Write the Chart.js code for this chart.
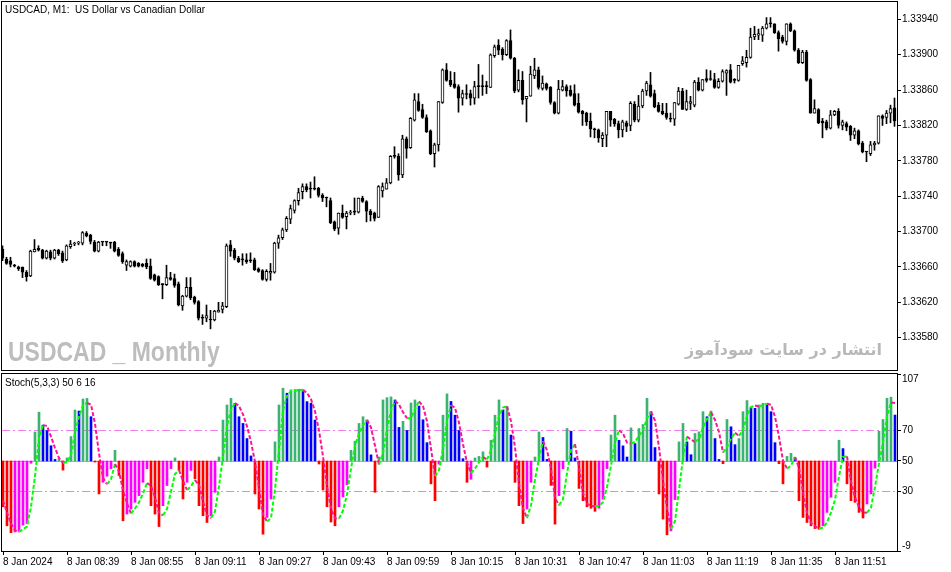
<!DOCTYPE html>
<html>
<head>
<meta charset="utf-8">
<script src="https://cdn.jsdelivr.net/npm/chart.js@4.4.1/dist/chart.umd.min.js"></script>
<style>
  html, body { margin: 0; padding: 0; background: #fff; }
  #wrap { position: relative; width: 951px; height: 572px; overflow: hidden; font-family: "Liberation Sans", Arial, sans-serif; }
  canvas { position: absolute; left: 0; }
  #main { top: 0; }
  #sub { top: 362px; }
  .txt { position: absolute; white-space: pre; }
  #title { left: 5px; top: 4px; font-size: 10px; color: #000; }
  #stochLabel { left: 5px; top: 377px; font-size: 10px; color: #000; }
  #wmEn { left: 8px; top: 338px; font-size: 28px; line-height: 28px; font-weight: bold; color: #bdbdbd; transform: scaleX(0.82); transform-origin: left top; }
  #wmFa { right: 69px; top: 342px; font-family: "DejaVu Sans", sans-serif; font-size: 16px; line-height: 16px; font-weight: bold; color: #b8b8b8; direction: rtl; }
</style>
</head>
<body>
<div id="wrap">
  <canvas id="main" width="951" height="372"></canvas>
  <canvas id="sub" width="951" height="210"></canvas>
  <div class="txt" id="title">USDCAD, M1:  US Dollar vs Canadian Dollar</div>
  <div class="txt" id="stochLabel">Stoch(5,3,3) 50 6 16</div>
  <div class="txt" id="wmEn">USDCAD _ Monthly</div>
  <div class="txt" id="wmFa">انتشار در سایت سودآموز</div>
</div>
<script>
// USDCAD M1, 8 Jan 2024 08:23 - 12:06, one bar per minute
const open = [1.33680,1.33669,1.33667,1.33661,1.33660,1.33660,1.33654,1.33650,1.33677,1.33681,
  1.33679,1.33670,1.33677,1.33670,1.33679,1.33676,1.33668,1.33683,1.33686,1.33687,
  1.33687,1.33698,1.33696,1.33688,1.33678,1.33688,1.33688,1.33688,1.33688,1.33680,
  1.33675,1.33662,1.33661,1.33666,1.33664,1.33663,1.33664,1.33661,1.33651,1.33649,
  1.33640,1.33640,1.33648,1.33647,1.33641,1.33616,1.33627,1.33637,1.33626,1.33621,
  1.33603,1.33602,1.33601,1.33600,1.33609,1.33612,1.33615,1.33685,1.33679,1.33670,
  1.33668,1.33668,1.33668,1.33668,1.33658,1.33656,1.33646,1.33653,1.33654,1.33687,
  1.33693,1.33702,1.33714,1.33724,1.33735,1.33745,1.33751,1.33748,1.33749,1.33749,
  1.33741,1.33738,1.33735,1.33711,1.33704,1.33721,1.33717,1.33721,1.33722,1.33722,
  1.33738,1.33734,1.33723,1.33721,1.33716,1.33746,1.33748,1.33755,1.33785,1.33785,
  1.33764,1.33805,1.33795,1.33826,1.33847,1.33838,1.33829,1.33814,1.33788,1.33798,
  1.33846,1.33883,1.33871,1.33867,1.33864,1.33851,1.33855,1.33856,1.33851,1.33864,
  1.33864,1.33864,1.33863,1.33899,1.33911,1.33906,1.33900,1.33916,1.33896,1.33860,
  1.33871,1.33850,1.33853,1.33876,1.33883,1.33862,1.33867,1.33863,1.33846,1.33834,
  1.33860,1.33864,1.33860,1.33856,1.33845,1.33836,1.33834,1.33825,1.33815,1.33815,
  1.33805,1.33809,1.33836,1.33827,1.33822,1.33815,1.33823,1.33820,1.33844,1.33826,
  1.33842,1.33859,1.33866,1.33856,1.33843,1.33836,1.33834,1.33827,1.33827,1.33844,
  1.33859,1.33838,1.33845,1.33843,1.33869,1.33860,1.33873,1.33872,1.33872,1.33863,
  1.33870,1.33879,1.33883,1.33871,1.33871,1.33890,1.33891,1.33897,1.33920,1.33922,
  1.33922,1.33930,1.33935,1.33935,1.33925,1.33920,1.33915,1.33935,1.33927,1.33905,
  1.33891,1.33903,1.33872,1.33834,1.33838,1.33825,1.33824,1.33817,1.33832,1.33836,
  1.33820,1.33822,1.33819,1.33809,1.33814,1.33800,1.33790,1.33788,1.33798,1.33800,
  1.33831,1.33829,1.33834,1.33840];
const high = [1.33684,1.33671,1.33671,1.33663,1.33661,1.33660,1.33656,1.33679,1.33691,1.33684,
  1.33680,1.33679,1.33679,1.33680,1.33680,1.33678,1.33685,1.33690,1.33688,1.33689,
  1.33700,1.33700,1.33697,1.33690,1.33689,1.33688,1.33688,1.33688,1.33689,1.33682,
  1.33677,1.33668,1.33667,1.33667,1.33665,1.33664,1.33669,1.33669,1.33652,1.33650,
  1.33641,1.33662,1.33654,1.33652,1.33643,1.33628,1.33648,1.33648,1.33627,1.33622,
  1.33606,1.33617,1.33611,1.33611,1.33620,1.33620,1.33686,1.33690,1.33681,1.33672,
  1.33675,1.33675,1.33676,1.33670,1.33659,1.33657,1.33657,1.33664,1.33688,1.33696,
  1.33704,1.33717,1.33730,1.33736,1.33749,1.33754,1.33754,1.33756,1.33762,1.33750,
  1.33743,1.33739,1.33738,1.33712,1.33721,1.33730,1.33723,1.33724,1.33738,1.33738,
  1.33740,1.33735,1.33725,1.33722,1.33752,1.33755,1.33760,1.33786,1.33796,1.33788,
  1.33809,1.33807,1.33829,1.33856,1.33856,1.33844,1.33832,1.33815,1.33800,1.33847,
  1.33884,1.33890,1.33881,1.33880,1.33866,1.33860,1.33866,1.33860,1.33870,1.33889,
  1.33877,1.33870,1.33901,1.33911,1.33917,1.33908,1.33917,1.33928,1.33897,1.33883,
  1.33881,1.33853,1.33887,1.33896,1.33886,1.33876,1.33868,1.33864,1.33847,1.33871,
  1.33871,1.33866,1.33865,1.33866,1.33856,1.33837,1.33835,1.33834,1.33817,1.33816,
  1.33812,1.33836,1.33836,1.33828,1.33825,1.33826,1.33825,1.33847,1.33847,1.33854,
  1.33861,1.33870,1.33880,1.33860,1.33846,1.33845,1.33845,1.33834,1.33846,1.33863,
  1.33862,1.33860,1.33853,1.33871,1.33874,1.33872,1.33883,1.33882,1.33879,1.33873,
  1.33883,1.33883,1.33889,1.33873,1.33888,1.33898,1.33905,1.33930,1.33932,1.33929,
  1.33932,1.33942,1.33942,1.33935,1.33927,1.33922,1.33935,1.33936,1.33928,1.33907,
  1.33905,1.33905,1.33873,1.33849,1.33839,1.33828,1.33826,1.33837,1.33837,1.33839,
  1.33826,1.33824,1.33820,1.33817,1.33815,1.33802,1.33790,1.33802,1.33802,1.33831,
  1.33832,1.33837,1.33843,1.33851];
const low = [1.33667,1.33663,1.33660,1.33660,1.33656,1.33648,1.33644,1.33649,1.33677,1.33678,
  1.33669,1.33669,1.33668,1.33669,1.33673,1.33665,1.33667,1.33681,1.33684,1.33685,
  1.33685,1.33694,1.33686,1.33677,1.33677,1.33684,1.33684,1.33681,1.33677,1.33672,
  1.33664,1.33656,1.33660,1.33660,1.33660,1.33660,1.33658,1.33646,1.33644,1.33639,
  1.33624,1.33639,1.33645,1.33637,1.33616,1.33611,1.33626,1.33623,1.33618,1.33600,
  1.33595,1.33598,1.33590,1.33599,1.33609,1.33608,1.33614,1.33672,1.33668,1.33665,
  1.33662,1.33664,1.33665,1.33656,1.33654,1.33645,1.33644,1.33645,1.33653,1.33681,
  1.33691,1.33700,1.33709,1.33721,1.33730,1.33737,1.33745,1.33738,1.33747,1.33739,
  1.33734,1.33728,1.33709,1.33701,1.33697,1.33715,1.33703,1.33719,1.33719,1.33721,
  1.33733,1.33711,1.33712,1.33712,1.33716,1.33739,1.33748,1.33754,1.33783,1.33758,
  1.33761,1.33783,1.33794,1.33825,1.33836,1.33828,1.33812,1.33787,1.33773,1.33791,
  1.33845,1.33870,1.33864,1.33862,1.33835,1.33843,1.33850,1.33843,1.33844,1.33851,
  1.33854,1.33856,1.33863,1.33897,1.33900,1.33894,1.33899,1.33895,1.33857,1.33858,
  1.33844,1.33824,1.33853,1.33873,1.33861,1.33860,1.33860,1.33844,1.33833,1.33833,
  1.33859,1.33853,1.33853,1.33842,1.33834,1.33820,1.33820,1.33807,1.33806,1.33801,
  1.33796,1.33796,1.33819,1.33819,1.33806,1.33807,1.33813,1.33814,1.33824,1.33824,
  1.33840,1.33854,1.33852,1.33840,1.33835,1.33832,1.33827,1.33824,1.33820,1.33843,
  1.33838,1.33837,1.33838,1.33841,1.33859,1.33859,1.33869,1.33871,1.33862,1.33862,
  1.33869,1.33854,1.33868,1.33868,1.33870,1.33888,1.33886,1.33896,1.33917,1.33917,
  1.33915,1.33929,1.33931,1.33924,1.33904,1.33913,1.33911,1.33926,1.33904,1.33890,
  1.33890,1.33870,1.33834,1.33834,1.33822,1.33806,1.33815,1.33816,1.33831,1.33817,
  1.33815,1.33814,1.33803,1.33805,1.33798,1.33789,1.33779,1.33786,1.33792,1.33799,
  1.33820,1.33822,1.33823,1.33819];
const close = [1.33670,1.33664,1.33663,1.33661,1.33658,1.33654,1.33649,1.33678,1.33680,1.33679,
  1.33670,1.33678,1.33670,1.33679,1.33675,1.33667,1.33684,1.33686,1.33687,1.33688,
  1.33699,1.33695,1.33689,1.33678,1.33688,1.33688,1.33688,1.33687,1.33678,1.33673,
  1.33666,1.33666,1.33666,1.33661,1.33661,1.33661,1.33660,1.33647,1.33645,1.33640,
  1.33640,1.33648,1.33646,1.33639,1.33617,1.33627,1.33637,1.33625,1.33620,1.33602,
  1.33602,1.33605,1.33600,1.33610,1.33611,1.33616,1.33684,1.33678,1.33670,1.33666,
  1.33668,1.33666,1.33667,1.33657,1.33655,1.33646,1.33655,1.33655,1.33687,1.33693,
  1.33702,1.33715,1.33726,1.33735,1.33744,1.33751,1.33747,1.33748,1.33748,1.33741,
  1.33738,1.33738,1.33710,1.33703,1.33721,1.33716,1.33721,1.33722,1.33722,1.33738,
  1.33734,1.33723,1.33719,1.33715,1.33751,1.33751,1.33755,1.33785,1.33785,1.33764,
  1.33805,1.33794,1.33828,1.33849,1.33837,1.33829,1.33813,1.33788,1.33798,1.33847,
  1.33883,1.33871,1.33866,1.33863,1.33851,1.33856,1.33855,1.33851,1.33864,1.33864,
  1.33864,1.33864,1.33900,1.33909,1.33905,1.33900,1.33916,1.33896,1.33859,1.33871,
  1.33849,1.33853,1.33878,1.33883,1.33863,1.33868,1.33862,1.33846,1.33834,1.33861,
  1.33864,1.33859,1.33854,1.33843,1.33835,1.33833,1.33824,1.33816,1.33815,1.33806,
  1.33809,1.33836,1.33826,1.33822,1.33815,1.33824,1.33819,1.33845,1.33826,1.33842,
  1.33859,1.33868,1.33853,1.33841,1.33836,1.33833,1.33829,1.33827,1.33846,1.33859,
  1.33838,1.33847,1.33847,1.33869,1.33860,1.33872,1.33871,1.33872,1.33863,1.33870,
  1.33881,1.33882,1.33869,1.33871,1.33888,1.33893,1.33897,1.33920,1.33923,1.33924,
  1.33930,1.33935,1.33935,1.33925,1.33918,1.33915,1.33935,1.33927,1.33905,1.33891,
  1.33903,1.33871,1.33834,1.33839,1.33823,1.33823,1.33817,1.33832,1.33836,1.33820,
  1.33824,1.33818,1.33809,1.33814,1.33799,1.33790,1.33790,1.33798,1.33800,1.33831,
  1.33828,1.33834,1.33839,1.33825];

// Stoch(5,3,3): main line (histogram around 50) and signal line
const stochK = [20,7.5,3,3.5,4,8,9,48.5,69,82,
  73.5,70,60,51,51.5,44,52,66,83.4,82.7,
  90.6,91,79,49.3,28.4,36,40,45,57,40.5,
  10.8,15.2,18.5,22.9,27.3,36,44.9,20.7,15.2,7,
  20.7,33.9,45,52,43.8,25.1,36,43.8,38.3,20.7,
  14.1,9.7,14.1,29.5,52.6,76.8,86.7,91.1,87.8,79,
  74.6,64.7,53.3,28.4,18.5,2,13,25.1,62.5,86.7,
  97.7,94.4,96.6,96.8,97,95.5,88.9,87.8,76.8,48,
  31,20,10,7.5,20,26.5,34.5,57,63,74.6,
  79,76.8,54,29.5,52.6,90,91.5,92,90,72,
  76,70,88,90,86,77,62,35,24,48,
  80,94,89,80,70,51.5,36,38,52,53,
  56,46,63.6,80,90,83.4,85.6,67,36,20.7,
  9,18.5,36,52.6,69,65.4,51,34,8.6,27.3,
  44.9,71.3,69.5,52,32,24,20,19,17,19,
  25,45,67,80,63.6,59.9,52.6,71.7,61.4,71.3,
  73.9,91.1,82.3,58.8,28.4,11.9,1.6,4.2,24.7,62.5,
  74.6,62.5,54.1,68,69.1,82.3,79,82.7,64.7,51,
  48.2,77.2,72.4,60.7,64.7,82.3,89.6,85,84.5,86.7,
  87.8,86.7,82.3,62,48.2,35,53,55,52,24,
  13,9.7,7.5,5.7,5.3,7.5,16.3,26.2,36,63.6,
  58.1,35,24,22.9,16.3,12.6,21.8,28.4,45.3,69.5,
  77.2,91.1,91.8,80.1];
const stochD = [24,16.3,9,4.5,3.5,5.2,7,20,40,65,
  73.5,73,66,58.5,52,48.8,49.2,54,68.5,79,
  86.5,88.1,86.9,74.5,55,39,34.8,38,48,43,
  31,22.2,15.5,18.9,22.9,28.7,35.5,33.9,26,16,
  14.4,18.5,30,41.5,44,37,31,33.5,37.5,34.3,
  23.5,14.3,12.6,17,33.5,53,73,83.5,88,86,
  80.5,72.8,62.5,49.5,32.5,15,10.3,12.5,31.5,57,
  83,92.5,95.8,96.1,96.4,96.6,94.5,90.5,82.5,70,
  53,33.5,19,12.5,12.2,17.5,28,45,60,68,
  73.5,76.8,72,60,47.5,55,71,83,89.5,87,
  82,78,78,84,89,86,76,58,40,44,
  58,76,86.5,85,75,61,49,42,45,49,
  52.5,51,57,68,79.5,85,85.8,76,59,35,
  19,12.5,21,38,51.5,63,57,45,26,21,
  25,42,57,61,46,29,22,20.5,20.3,20.5,
  23,33,47,62,70.2,68,62,61.4,62.5,66.5,
  70,78,82.3,76.5,59,37,19,5.5,10.5,31,
  52,66,64,62.5,64.5,72,77.5,82,77,69,
  55.5,59,64.5,68.5,66.5,70.2,79.5,85.3,86.3,85.7,
  86.7,87.6,86.8,79,66,50,45,47,52.6,45.5,
  29.6,16,9.5,7.2,5.8,6.3,9.7,16.3,24.5,40,
  52.6,53,36.5,26.2,19.7,16.2,16,19.5,33,48.5,
  62,79.3,88.3,88];

const priceTicks = [1.33580, 1.33620, 1.33660, 1.33700, 1.33740, 1.33780, 1.33820, 1.33860, 1.33900, 1.33940];
const stochTicks = [-9, 30, 50, 70, 107];
const levels = [30, 50, 70];
const timeTickIdx = [0, 16, 32, 48, 64, 80, 96, 112, 128, 144, 160, 176, 192, 208];
const timeTicks = ['8 Jan 2024', '8 Jan 08:39', '8 Jan 08:55', '8 Jan 09:11', '8 Jan 09:27', '8 Jan 09:43',
  '8 Jan 09:59', '8 Jan 10:15', '8 Jan 10:31', '8 Jan 10:47', '8 Jan 11:03', '8 Jan 11:19', '8 Jan 11:35', '8 Jan 11:51'];

const idx = close.map((_, i) => i);
const axisFont = { family: 'Liberation Sans', size: 10 };

// black frame around the plot area, like the terminal window
const frame = {
  id: 'frame',
  afterDraw(chart) {
    const { ctx, chartArea: a } = chart;
    ctx.save();
    ctx.strokeStyle = '#000';
    ctx.lineWidth = 1;
    ctx.strokeRect(a.left - 0.5, a.top - 0.5, a.right - a.left + 1, a.bottom - a.top + 1);
    ctx.restore();
  }
};

// level lines of the oscillator
const levelLines = {
  id: 'levelLines',
  beforeDatasetsDraw(chart) {
    const { ctx, chartArea: a, scales: { y } } = chart;
    ctx.save();
    ctx.strokeStyle = '#ee82ee';
    ctx.lineWidth = 1;
    levels.forEach(v => {
      const py = Math.round(y.getPixelForValue(v)) + 0.5;
      ctx.setLineDash(v === 50 ? [] : [8, 3, 2, 3]);
      ctx.beginPath();
      ctx.moveTo(a.left, py);
      ctx.lineTo(a.right, py);
      ctx.stroke();
    });
    ctx.restore();
  }
};

// the terminal keeps the first and last labels inside the panel
const stochAxisLabels = {
  id: 'stochAxisLabels',
  afterDraw(chart) {
    const { ctx, chartArea: a, scales: { y } } = chart;
    ctx.save();
    ctx.fillStyle = '#000';
    ctx.font = '10px "Liberation Sans"';
    ctx.textBaseline = 'middle';
    stochTicks.forEach(v => {
      let py = y.getPixelForValue(v);
      if (v === y.max) py += 5;
      if (v === y.min) py -= 5;
      ctx.fillText(String(v), a.right + 5, py);
    });
    ctx.restore();
  }
};

function histColor(i) {
  const k = stochK[i];
  const up = i > 0 && k >= stochK[i - 1];
  if (k >= 50) return up ? '#3cb371' : '#0000ff';
  return up ? '#ff00ff' : '#ff0000';
}

function noPad(s) {
  s.paddingTop = 0; s.paddingBottom = 0; s.paddingLeft = 0; s.paddingRight = 0;
}

new Chart(document.getElementById('main'), {
  type: 'bar',
  data: {
    datasets: [
      {
        order: 0, grouped: false, barThickness: 3, minBarLength: 1,
        borderWidth: 1, borderSkipped: false, borderColor: '#000',
        backgroundColor: c => close[c.dataIndex] > open[c.dataIndex] ? '#fff' : '#000',
        data: idx.map(i => ({ x: i, y: [open[i], close[i]] }))
      },
      {
        order: 1, grouped: false, barThickness: 1, borderWidth: 0, backgroundColor: '#000',
        data: idx.map(i => ({ x: i, y: [low[i], high[i]] }))
      }
    ]
  },
  options: {
    responsive: false, animation: false, devicePixelRatio: 1,
    layout: { autoPadding: false, padding: { left: 2, top: 2, right: 0, bottom: 2 } },
    plugins: { legend: { display: false }, tooltip: { enabled: false } },
    scales: {
      x: { type: 'linear', offset: false, min: -0.125, max: 223.625, display: false },
      y: {
        position: 'right', min: 1.335435, max: 1.339596,
        afterBuildTicks: s => { s.ticks = priceTicks.map(v => ({ value: v })); },
        afterFit: s => { s.width = 54; noPad(s); },
        grid: { drawOnChartArea: false, tickLength: 4, color: '#000' },
        border: { display: false },
        ticks: { padding: 1, color: '#000', font: axisFont, callback: v => v.toFixed(5) }
      }
    }
  },
  plugins: [frame]
});

new Chart(document.getElementById('sub'), {
  type: 'bar',
  data: {
    datasets: [
      {
        type: 'line', order: 0, borderWidth: 2, borderDash: [4, 2], pointRadius: 0, tension: 0,
        borderColor: '#00ff00',
        segment: { borderColor: s => s.p1.parsed.y >= s.p0.parsed.y ? '#00ff00' : '#ff1493' },
        data: idx.map(i => ({ x: i, y: stochD[i] }))
      },
      {
        type: 'bar', order: 1, grouped: false, barThickness: 2, borderWidth: 0,
        backgroundColor: c => histColor(c.dataIndex),
        data: idx.map(i => ({ x: i, y: [50, stochK[i]] }))
      }
    ]
  },
  options: {
    responsive: false, animation: false, devicePixelRatio: 1,
    layout: { autoPadding: false, padding: { left: 2, top: 12, right: 0, bottom: 0 } },
    plugins: { legend: { display: false }, tooltip: { enabled: false } },
    scales: {
      x: {
        type: 'linear', offset: false, min: -0.25, max: 223.5,
        afterBuildTicks: s => { s.ticks = timeTickIdx.map(v => ({ value: v })); },
        afterFit: s => { s.height = 21; noPad(s); },
        grid: { offset: false, drawOnChartArea: false, tickLength: 4, color: '#000' },
        border: { display: false },
        ticks: {
          autoSkip: false, maxRotation: 0, minRotation: 0, align: 'start', padding: 1,
          color: '#000', font: axisFont, callback: (v, i) => timeTicks[i]
        }
      },
      y: {
        position: 'right', min: -9, max: 107,
        afterBuildTicks: s => { s.ticks = stochTicks.map(v => ({ value: v })); },
        afterFit: s => { s.width = 54; noPad(s); },
        grid: { drawOnChartArea: false, tickLength: 4, color: '#000' },
        border: { display: false },
        ticks: { display: false }
      }
    }
  },
  plugins: [levelLines, frame, stochAxisLabels]
});
</script>
</body>
</html>
